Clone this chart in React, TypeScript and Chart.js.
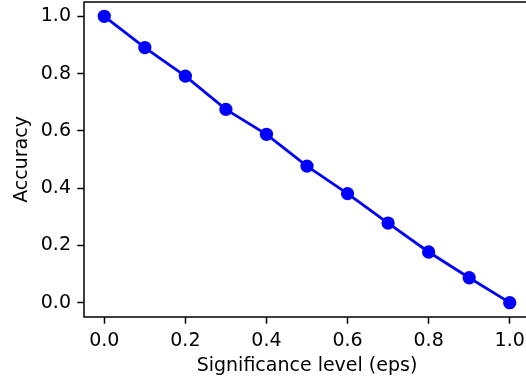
import React, { useEffect, useRef } from "react";
import { Chart, registerables } from "chart.js";

Chart.register(...registerables);

const epsValues = [0.0, 0.1, 0.2, 0.3, 0.4, 0.5, 0.6, 0.7, 0.8, 0.9, 1.0];
const accuracyValues = [1.0, 0.891, 0.791, 0.675, 0.588, 0.477, 0.381, 0.278, 0.177, 0.087, 0.0];
const xTicks = [0.0, 0.2, 0.4, 0.6, 0.8, 1.0];
const xTickLabels = ["0.0", "0.2", "0.4", "0.6", "0.8", "1.0"];
const yTicks = [0.0, 0.2, 0.4, 0.6, 0.8, 1.0];
const yTickLabels = ["0.0", "0.2", "0.4", "0.6", "0.8", "1.0"];
const xTitle = "Significance level (eps)";
const yTitle = "Accuracy";

const FONT = "DejaVu Sans";

const framePlugin = {
  id: "frame",
  afterDraw(chart: any) {
    const { ctx, chartArea } = chart;
    ctx.save();
    ctx.strokeStyle = "#000000";
    ctx.lineWidth = 1.5;
    ctx.strokeRect(chartArea.left, chartArea.top, chartArea.right - chartArea.left, chartArea.bottom - chartArea.top);
    ctx.restore();
  },
};

const zeroPad = (s: any) => {
  s.paddingTop = 0;
  s.paddingBottom = 0;
  s.paddingLeft = 0;
  s.paddingRight = 0;
};

export default function App() {
  const ref = useRef<HTMLCanvasElement | null>(null);
  useEffect(() => {
    if (!ref.current) return;
    const chart = new Chart(ref.current, {
      type: "line",
      data: {
        datasets: [
          {
            data: epsValues.map((x, i) => ({ x, y: accuracyValues[i] })),
            borderColor: "#0000ff",
            backgroundColor: "#0000ff",
            borderWidth: 2.8,
            pointRadius: 5.7,
            pointBorderWidth: 1.9,
            pointBackgroundColor: "#0000ff",
            pointBorderColor: "#0000ff",
            fill: false,
            tension: 0,
          },
        ],
      },
      options: {
        animation: false,
        responsive: false,
        devicePixelRatio: 1,
        layout: { autoPadding: false, padding: { top: 2, right: 0, left: 0, bottom: 0 } },
        plugins: { legend: { display: false }, tooltip: { enabled: false } },
        scales: {
          x: {
            type: "linear",
            min: -0.05,
            max: 1.05,
            afterFit: (s: any) => {
              s.height = 66;
              zeroPad(s);
            },
            afterBuildTicks: (s: any) => {
              s.ticks = xTicks.map((v) => ({ value: v }));
            },
            grid: {
              display: true,
              drawOnChartArea: false,
              drawTicks: true,
              tickLength: 6.7,
              tickWidth: 1.5,
              tickColor: "#000000",
            },
            border: { display: false },
            ticks: {
              autoSkip: false,
              maxRotation: 0,
              padding: 6,
              color: "#000000",
              font: { family: FONT, size: 19 },
              callback: (_v: any, i: number) => xTickLabels[i],
            },
            title: {
              display: true,
              text: xTitle,
              color: "#000000",
              font: { family: FONT, size: 19 },
              padding: { top: 0, bottom: 5.5 },
            },
          },
          y: {
            type: "linear",
            min: -0.05,
            max: 1.05,
            afterFit: (s: any) => {
              s.width = 84;
              zeroPad(s);
            },
            afterBuildTicks: (s: any) => {
              s.ticks = yTicks.map((v) => ({ value: v }));
            },
            grid: {
              display: true,
              drawOnChartArea: false,
              drawTicks: true,
              tickLength: 6.7,
              tickWidth: 1.5,
              tickColor: "#000000",
            },
            border: { display: false },
            ticks: {
              autoSkip: false,
              padding: 6.3,
              color: "#000000",
              font: { family: FONT, size: 19 },
              callback: (_v: any, i: number) => yTickLabels[i],
            },
            title: {
              display: true,
              text: yTitle,
              color: "#000000",
              font: { family: FONT, size: 19 },
              padding: { top: 10.6, bottom: 0 },
            },
          },
        },
      },
      plugins: [framePlugin],
    });
    return () => chart.destroy();
  }, []);
  return (
    <div style={{ position: "fixed", left: 0, top: 0, width: 526, height: 383, overflow: "hidden", background: "#ffffff" }}>
      <canvas ref={ref} width={530} height={383} style={{ width: 530, height: 383, display: "block" }} />
    </div>
  );
}
